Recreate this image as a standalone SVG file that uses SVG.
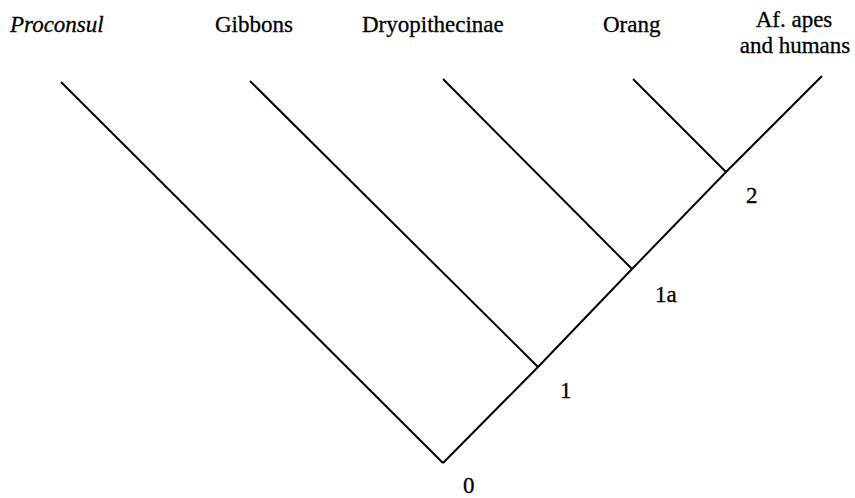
<svg xmlns="http://www.w3.org/2000/svg" width="855" height="498" viewBox="0 0 855 498">
<style>
.t{font-family:"Liberation Serif","Times New Roman",serif;font-size:23px;fill:#000;stroke:#000;stroke-width:0.3}
.i{font-style:italic}
.e{stroke:#000;stroke-width:2;fill:none;stroke-linecap:butt}
</style>
<rect width="855" height="498" fill="#fff"/>
<g id="connectors">
<polyline class="e" points="443,463 538,367 632,269 726,172 822,76"/>
<line class="e" x1="61" y1="82" x2="443" y2="463"/>
<line class="e" x1="250" y1="81" x2="538" y2="367"/>
<line class="e" x1="443" y1="79" x2="632" y2="269"/>
<line class="e" x1="633" y1="79" x2="726" y2="172"/>
</g>
<g id="proconsul"><text class="t i" x="10" y="32">Proconsul</text></g>
<g id="gibbons"><text class="t" x="215" y="32">Gibbons</text></g>
<g id="dryopithecinae"><text class="t" x="362" y="32">Dryopithecinae</text></g>
<g id="orang"><text class="t" x="603" y="32">Orang</text></g>
<g id="afapes"><text class="t" x="794" y="27" text-anchor="middle">Af. apes</text><text class="t" x="795" y="53" text-anchor="middle">and humans</text></g>
<g id="node2"><text class="t" x="746" y="203">2</text></g>
<g id="node1a"><text class="t" x="655" y="302">1a</text></g>
<g id="node1"><text class="t" x="560" y="398">1</text></g>
<g id="node0"><text class="t" x="463" y="493">0</text></g>
</svg>
